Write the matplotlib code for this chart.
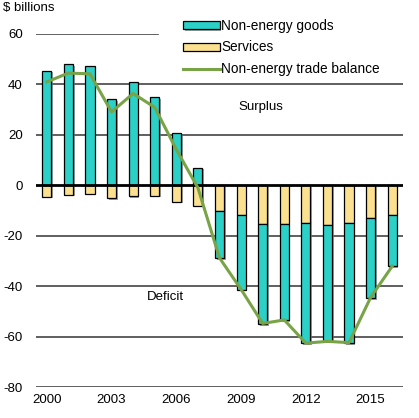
import matplotlib
matplotlib.use("Agg")
import matplotlib.pyplot as plt
import matplotlib.patheffects as pe
import numpy as np

years = list(range(2000, 2017))
goods = [45.4, 48.1, 47.3, 34.1, 40.8, 34.9, 20.7, 7.0,
         -18.5, -29.7, -39.8, -38.2, -47.9, -46.3, -47.7, -31.8, -20.4]
services = [-4.5, -3.7, -3.3, -5.0, -4.2, -4.1, -6.5, -8.1,
            -10.3, -11.7, -15.2, -15.2, -14.8, -15.6, -14.8, -12.9, -11.7]
balance = [41.0, 44.5, 44.2, 29.1, 36.4, 30.9, 14.2, -1.0,
           -28.8, -41.3, -54.8, -53.4, -62.6, -61.9, -62.4, -44.5, -32.1]
yticks = [-80, -60, -40, -20, 0, 20, 40, 60]
xticks = [2000, 2003, 2006, 2009, 2012, 2015]

plt.rcParams['font.family'] = ['Liberation Sans', 'DejaVu Sans']
plt.rcParams['axes.unicode_minus'] = False

goods_c = '#2BD0C7'
serv_c = '#FAE08F'
line_c = '#78A346'

fig = plt.figure(figsize=(4.19, 4.18), dpi=100)
ax = fig.add_axes([36/419, 1-387/418, (403-36)/419, (387-34)/418])
ax.set_xlim(1999.5, 2016.5)
ax.set_ylim(-80, 60)

# gridlines
for v in yticks:
    if v == 0:
        continue
    if v == 60:
        ax.axhline(v, xmin=0, xmax=(158-36)/(403-36), color='#555555', lw=1.3, zorder=1)
    else:
        ax.axhline(v, color='#444444', lw=1.2, zorder=1)

shadow = [pe.SimplePatchShadow(offset=(1.2, -1.2), shadow_rgbFace='#777777', alpha=0.7), pe.Normal()]

x = np.array(years)
g = np.array(goods)
s = np.array(services)
w = 0.42
serv_bars = ax.bar(x, s, width=w, color=serv_c, edgecolor='black', linewidth=0.9, zorder=3,
                   label='Services')
g_bottom = np.where(g < 0, s, 0)
goods_bars = ax.bar(x, g, bottom=g_bottom, width=w, color=goods_c, edgecolor='black', linewidth=0.9,
                    zorder=3, label='Non-energy goods')
for b in list(serv_bars) + list(goods_bars):
    b.set_path_effects(shadow)

ax.axhline(0, color='black', lw=2.0, zorder=4)

ax.plot(x, balance, color=line_c, lw=2.2, zorder=5, label='Non-energy trade balance')

ax.set_yticks(yticks)
ax.set_xticks(xticks)
ax.tick_params(axis='y', length=0, labelsize=9.5, pad=9.5)
ax.tick_params(axis='x', length=0, labelsize=9.5, pad=5)
for sp in ax.spines.values():
    sp.set_visible(False)

ax.text(2009.9, 31, 'Surplus', fontsize=9.5, ha='center', va='center')
ax.text(2005.5, -44.5, 'Deficit', fontsize=9.5, ha='center', va='center')
fig.text(3/419, 1-8/418, '$ billions', fontsize=9.5, ha='left', va='center')

handles = [goods_bars, serv_bars, ax.lines[-1]]
leg = fig.legend(handles=handles, labels=['Non-energy goods', 'Services', 'Non-energy trade balance'],
                 loc='upper left', bbox_to_anchor=(183/419, 1-19/418), frameon=False,
                 fontsize=9.8, handlelength=2.7, handleheight=0.5, handletextpad=0.1,
                 labelspacing=0.55, borderpad=0, borderaxespad=0)

fig.savefig('out.png', dpi=100)
